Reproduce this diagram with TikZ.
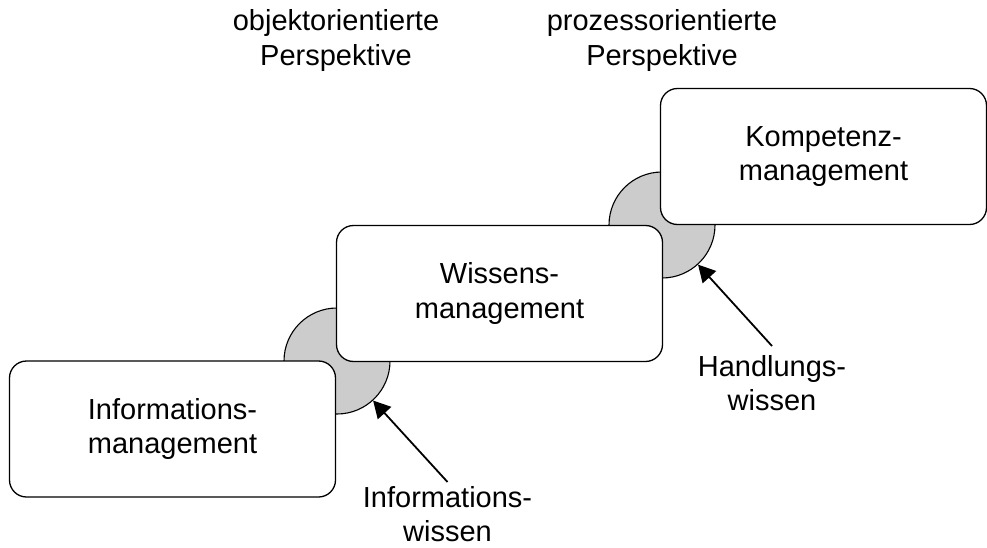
\documentclass[tikz,border=0pt]{standalone}
\usepackage{fontspec}
\setmainfont{Liberation Sans}
\usetikzlibrary{arrows.meta}
\begin{document}
\begin{tikzpicture}[x=1pt,y=-1pt,
  txt/.style={align=center, font=\fontsize{29}{34.5}\selectfont, inner sep=0pt},
  mgmt/.style={txt, draw, line width=1.3pt, fill=white, rounded corners=17pt, minimum width=326pt, minimum height=136pt},
  joint/.style={circle, draw, line width=1.1pt, fill=gray!40, minimum size=106pt, inner sep=0pt},
  pointer/.style={-{Triangle[length=17pt,width=18pt]}, line width=1.8pt}]
\useasboundingbox (0,0) rectangle (987,548);
% joints
\node[joint] (c1) at (337,361) {};
\node[joint] (c2) at (662,225) {};
% boxes
\node[mgmt] (b1) at (172.5,429) {Informations-\\management};
\node[mgmt] (b2) at (499.5,293.5) {Wissens-\\management};
\node[mgmt] (b3) at (823.5,156.5) {Kompetenz-\\management};
% headings
\node[txt] (h1) at (336,40.5) {objektorientierte\\Perspektive};
\node[txt] (h2) at (662,40.5) {prozessorientierte\\Perspektive};
% labels
\node[txt, anchor=north, inner ysep=4pt] (l1) at (447.5,482) {Informations-\\wissen};
\node[txt, anchor=north, inner ysep=9pt] (l2) at (772,346) {Handlungs-\\wissen};
% arrows
\draw[pointer] (l1.north) -- (c1);
\draw[pointer] (l2.north) -- (c2);
\end{tikzpicture}
\end{document}
